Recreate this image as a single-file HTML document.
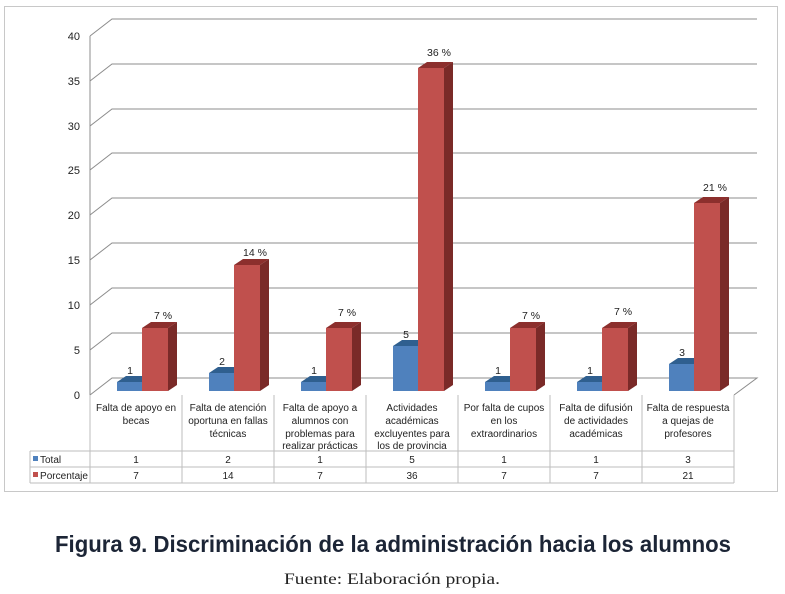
<!DOCTYPE html>
<html><head><meta charset="utf-8"><style>
html,body{margin:0;padding:0;background:#fff;}
svg{display:block;}
text{font-family:"Liberation Sans",sans-serif;fill:#222;}
</style></head><body>
<svg width="785" height="594" viewBox="0 0 785 594" xmlns="http://www.w3.org/2000/svg">
<rect x="4.5" y="6.5" width="773" height="485" fill="#fff" stroke="#c8c8c8"/>
<g stroke="#8c8c8c" stroke-width="1" fill="none">
<path d="M90 350 L112 333 L757 333"/>
<path d="M90 305 L112 288 L757 288"/>
<path d="M90 260 L112 243 L757 243"/>
<path d="M90 215 L112 198 L757 198"/>
<path d="M90 170 L112 153 L757 153"/>
<path d="M90 126 L112 109 L757 109"/>
<path d="M90 81 L112 64 L757 64"/>
<path d="M90 36 L112 19 L757 19"/>
<path d="M90 395 L112 378 L757 378 L734 395"/>
<path d="M90 36 L90 395"/>
</g>
<g font-size="11" text-anchor="end">
<text x="80" y="399">0</text><text x="80" y="354">5</text><text x="80" y="309">10</text><text x="80" y="264">15</text><text x="80" y="219">20</text><text x="80" y="174">25</text><text x="80" y="130">30</text><text x="80" y="85">35</text><text x="80" y="40">40</text>
</g>
<g stroke="#bdbdbd" stroke-width="1" fill="none">
<path d="M90 395V483M182 395V483M274 395V483M366 395V483M458 395V483M550 395V483M642 395V483M734 395V483"/>
<path d="M30 451H734M30 467H734M30 483H734M30 451V483"/>
</g>
<rect x="33" y="456" width="5" height="5" fill="#4f81bd"/>
<rect x="33" y="472" width="5" height="5" fill="#c0504d"/>
<g font-size="10">
<text x="40" y="463">Total</text>
<text x="40" y="479" textLength="48" lengthAdjust="spacingAndGlyphs">Porcentaje</text>
</g>
<g font-size="10" text-anchor="middle">
<text x="136" y="411">Falta de apoyo en</text><text x="136" y="424">becas</text>
<text x="228" y="411">Falta de atención</text><text x="228" y="424">oportuna en fallas</text><text x="228" y="437">técnicas</text>
<text x="320" y="411">Falta de apoyo a</text><text x="320" y="424">alumnos con</text><text x="320" y="437">problemas para</text><text x="320" y="449">realizar prácticas</text>
<text x="412" y="411">Actividades</text><text x="412" y="424">académicas</text><text x="412" y="437">excluyentes para</text><text x="412" y="449">los de provincia</text>
<text x="504" y="411">Por falta de cupos</text><text x="504" y="424">en los</text><text x="504" y="437">extraordinarios</text>
<text x="596" y="411">Falta de difusión</text><text x="596" y="424">de actividades</text><text x="596" y="437">académicas</text>
<text x="688" y="411">Falta de respuesta</text><text x="688" y="424">a quejas de</text><text x="688" y="437">profesores</text>
<text x="136" y="463">1</text><text x="228" y="463">2</text><text x="320" y="463">1</text><text x="412" y="463">5</text><text x="504" y="463">1</text><text x="596" y="463">1</text><text x="688" y="463">3</text>
<text x="136" y="479">7</text><text x="228" y="479">14</text><text x="320" y="479">7</text><text x="412" y="479">36</text><text x="504" y="479">7</text><text x="596" y="479">7</text><text x="688" y="479">21</text>
</g>
<g>
<polygon points="117,382 126,376 151,376 142,382" fill="#2f5f8f"/><rect x="117" y="382" width="25" height="9" fill="#4f81bd"/>
<polygon points="142,328 151,322 177,322 168,328" fill="#8c2f2d"/><polygon points="168,328 177,322 177,385 168,391" fill="#7a2a28"/><rect x="142" y="328" width="26" height="63" fill="#c0504d"/>
<polygon points="209,373 218,367 243,367 234,373" fill="#2f5f8f"/><rect x="209" y="373" width="25" height="18" fill="#4f81bd"/>
<polygon points="234,265 243,259 269,259 260,265" fill="#8c2f2d"/><polygon points="260,265 269,259 269,385 260,391" fill="#7a2a28"/><rect x="234" y="265" width="26" height="126" fill="#c0504d"/>
<polygon points="301,382 310,376 335,376 326,382" fill="#2f5f8f"/><rect x="301" y="382" width="25" height="9" fill="#4f81bd"/>
<polygon points="326,328 335,322 361,322 352,328" fill="#8c2f2d"/><polygon points="352,328 361,322 361,385 352,391" fill="#7a2a28"/><rect x="326" y="328" width="26" height="63" fill="#c0504d"/>
<polygon points="393,346 402,340 427,340 418,346" fill="#2f5f8f"/><rect x="393" y="346" width="25" height="45" fill="#4f81bd"/>
<polygon points="418,68 427,62 453,62 444,68" fill="#8c2f2d"/><polygon points="444,68 453,62 453,385 444,391" fill="#7a2a28"/><rect x="418" y="68" width="26" height="323" fill="#c0504d"/>
<polygon points="485,382 494,376 519,376 510,382" fill="#2f5f8f"/><rect x="485" y="382" width="25" height="9" fill="#4f81bd"/>
<polygon points="510,328 519,322 545,322 536,328" fill="#8c2f2d"/><polygon points="536,328 545,322 545,385 536,391" fill="#7a2a28"/><rect x="510" y="328" width="26" height="63" fill="#c0504d"/>
<polygon points="577,382 586,376 611,376 602,382" fill="#2f5f8f"/><rect x="577" y="382" width="25" height="9" fill="#4f81bd"/>
<polygon points="602,328 611,322 637,322 628,328" fill="#8c2f2d"/><polygon points="628,328 637,322 637,385 628,391" fill="#7a2a28"/><rect x="602" y="328" width="26" height="63" fill="#c0504d"/>
<polygon points="669,364 678,358 703,358 694,364" fill="#2f5f8f"/><rect x="669" y="364" width="25" height="27" fill="#4f81bd"/>
<polygon points="694,203 703,197 729,197 720,203" fill="#8c2f2d"/><polygon points="720,203 729,197 729,385 720,391" fill="#7a2a28"/><rect x="694" y="203" width="26" height="188" fill="#c0504d"/>
</g>
<g font-size="10.5" text-anchor="middle">
<text x="130" y="374">1</text><text x="163" y="319">7 %</text>
<text x="222" y="365">2</text><text x="255" y="256">14 %</text>
<text x="314" y="374">1</text><text x="347" y="316">7 %</text>
<text x="406" y="338">5</text><text x="439" y="56">36 %</text>
<text x="498" y="374">1</text><text x="531" y="319">7 %</text>
<text x="590" y="374">1</text><text x="623" y="315">7 %</text>
<text x="682" y="356">3</text><text x="715" y="191">21 %</text>
</g>
<text x="393" y="552" text-anchor="middle" font-size="23" font-weight="bold" style="fill:#1c2536" textLength="676" lengthAdjust="spacingAndGlyphs">Figura 9. Discriminación de la administración hacia los alumnos</text>
<text x="392" y="584" text-anchor="middle" font-size="16" style="font-family:'Liberation Serif',serif;fill:#222" textLength="216" lengthAdjust="spacingAndGlyphs">Fuente: Elaboración propia.</text>
</svg>
</body></html>
